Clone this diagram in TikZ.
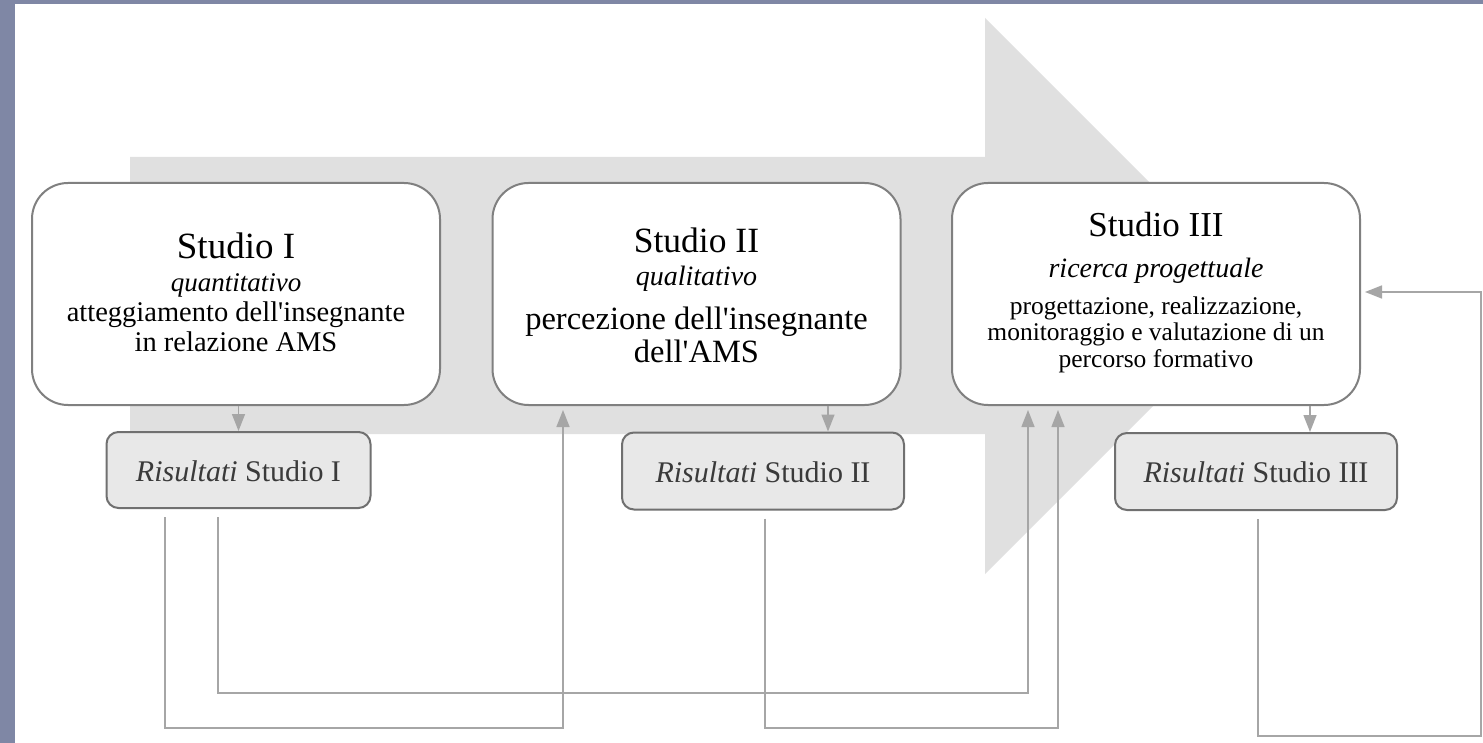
\documentclass[tikz,border=0pt]{standalone}
\usepackage{fontspec}
\setmainfont{Liberation Serif}
\usetikzlibrary{arrows.meta}
\definecolor{framec}{HTML}{7F87A5}
\definecolor{bigarrowc}{HTML}{E0E0E0}
\definecolor{studioborderc}{HTML}{808080}
\definecolor{resborderc}{HTML}{707070}
\definecolor{resfillc}{HTML}{E8E8E8}
\definecolor{connc}{HTML}{A6A6A6}
\definecolor{restextc}{HTML}{3A3A3A}
\newcommand{\fsz}[1]{\fontsize{#1}{#1}\selectfont}
\newcommand{\apo}{\textquotesingle}
\begin{document}
\begin{tikzpicture}[x=1pt,y=-1pt,
  studiobox/.style={draw=studioborderc, line width=2pt, fill=white, rounded corners=36pt,
    minimum width=408pt, minimum height=222pt, inner sep=0pt},
  resbox/.style={draw=resborderc, line width=2pt, fill=resfillc, rounded corners=12pt,
    minimum height=76pt, inner sep=0pt},
  connline/.style={draw=connc, line width=1.5pt, -{Triangle[length=17pt,width=13pt]}},
  txtline/.style={anchor=base, inner sep=0pt, text=black},
  restxt/.style={anchor=base, inner sep=0pt, text=restextc, font=\fsz{30}}
]
\useasboundingbox (0,0) rectangle (1483,743);
\fill[white] (0,0) rectangle (1483,743);
% frame strips
\fill[framec] (0,0) rectangle (1483,4);
\fill[framec] (0,0) rectangle (15,743);
% big background arrow
\fill[bigarrowc] (130,157) -- (985,157) -- (985,18) -- (1263,296) -- (985,574)
  -- (985,434) -- (130,434) -- cycle;

% study boxes
\node[studiobox] (s1) at (236,294) {};
\node[studiobox] (s2) at (696.5,294) {};
\node[studiobox] (s3) at (1156,294) {};

% result boxes
\node[resbox, minimum width=264pt] (r1) at (238.5,470) {};
\node[resbox, minimum width=282pt, minimum height=77pt] (r2) at (763,471) {};
\node[resbox, minimum width=282pt, minimum height=77pt] (r3) at (1256,471.5) {};

% texts Studio I
\node[txtline, font=\fsz{37}] (s1t) at (236,259) {Studio I};
\node[txtline, font=\fsz{27}\itshape] (s1s) at (236,291) {quantitativo};
\node[txtline, font=\fsz{28.5}] (s1a) at (236,322) {atteggiamento dell\apo insegnante};
\node[txtline, font=\fsz{28.5}] (s1b) at (236,351) {in relazione AMS};

% texts Studio II
\node[txtline, font=\fsz{35.5}] (s2t) at (696.5,253) {Studio II};
\node[txtline, font=\fsz{28}\itshape] (s2s) at (696.5,286) {qualitativo};
\node[txtline, font=\fsz{32.5}] (s2a) at (696.5,330) {percezione dell\apo insegnante};
\node[txtline, font=\fsz{32.5}] (s2b) at (696.5,362) {dell\apo AMS};

% texts Studio III
\node[txtline, font=\fsz{35}] (s3t) at (1156,237) {Studio III};
\node[txtline, font=\fsz{28}\itshape] (s3s) at (1156,278) {ricerca progettuale};
\node[txtline, font=\fsz{25.5}] (s3a) at (1156,315) {progettazione, realizzazione,};
\node[txtline, font=\fsz{25.5}] (s3b) at (1156,341) {monitoraggio e valutazione di un};
\node[txtline, font=\fsz{25.5}] (s3c) at (1156,367) {percorso formativo};

% result texts
\node[restxt] (r1t) at (238.5,481) {\textit{Risultati} Studio I};
\node[restxt] (r2t) at (763,482) {\textit{Risultati} Studio II};
\node[restxt] (r3t) at (1256,482) {\textit{Risultati} Studio III};

% study -> result arrows
\draw[connline] (s1.south -| r1.north) -- (r1.north);
\draw[connline] ([xshift=65pt]r2.north |- s2.south) -- ([xshift=65pt]r2.north);
\draw[connline] ([xshift=54pt]r3.north |- s3.south) -- ([xshift=54pt]r3.north);

% feedback arrows
\draw[connline] ([xshift=-73.5pt,yshift=-8pt]r1.south) -- ++(0,211)
  -| ([xshift=-133.5pt,yshift=-4pt]s2.south);
\draw[connline] ([xshift=-20.5pt,yshift=-8pt]r1.south) -- ++(0,176)
  -| ([xshift=-128pt,yshift=-4pt]s3.south);
\draw[connline] ([xshift=2pt,yshift=-8pt]r2.south) -- ++(0,209.5)
  -| ([xshift=-98pt,yshift=-4pt]s3.south);
\draw[connline] ([xshift=2pt,yshift=-8pt]r3.south) -- ++(0,217) -- ++(223,0)
  |- ([xshift=4pt,yshift=2pt]s3.east);
\end{tikzpicture}
\end{document}
